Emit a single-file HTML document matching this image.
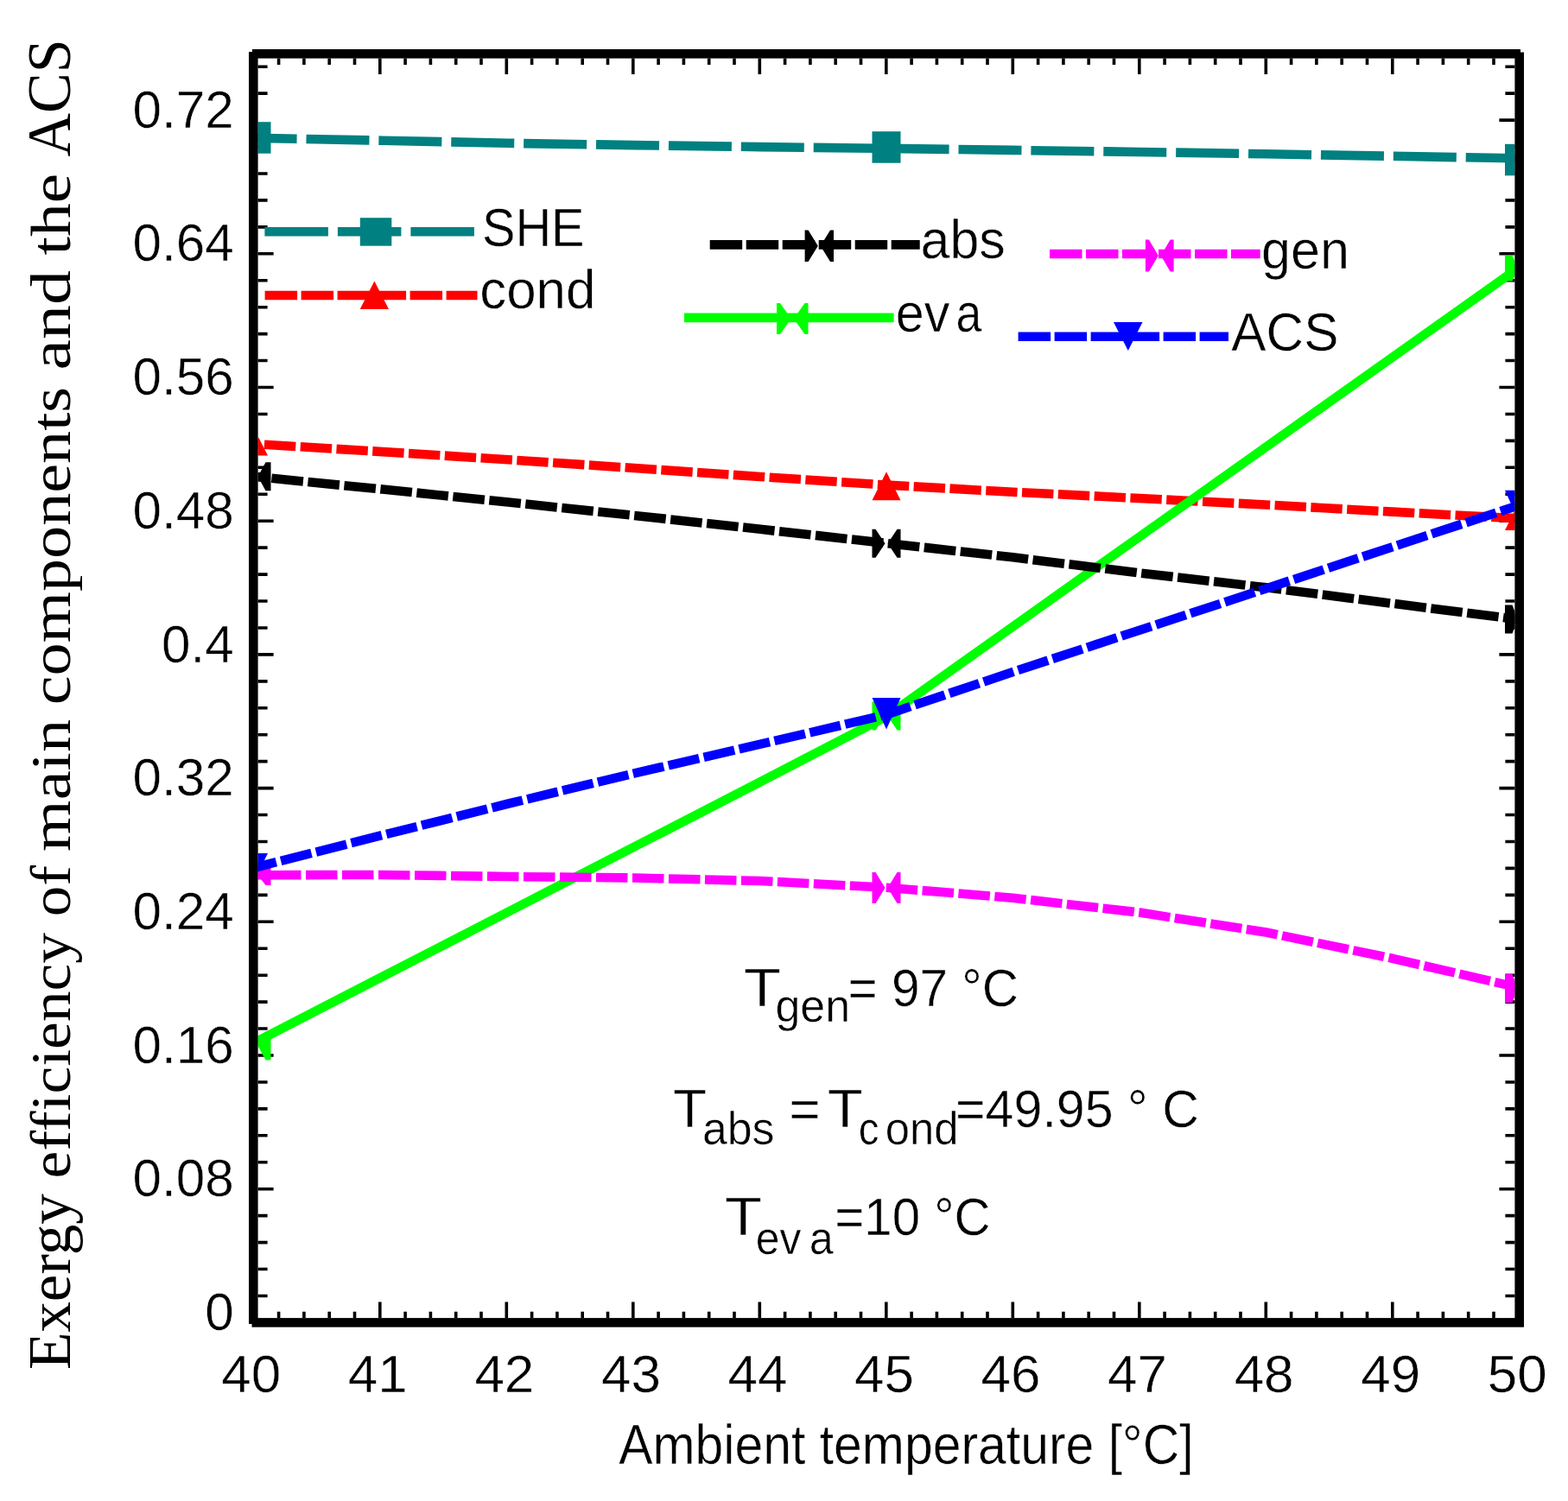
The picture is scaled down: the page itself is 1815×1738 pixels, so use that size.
<!DOCTYPE html><html><head><meta charset="utf-8"><title>Exergy efficiency vs ambient temperature</title><style>html,body{margin:0;padding:0;background:#fff;}body{width:1815px;height:1738px;overflow:hidden;}svg{display:block;}</style></head><body><svg width="1815" height="1738" viewBox="0 0 1815 1738">
<rect width="1815" height="1738" fill="#fff"/>
<defs><clipPath id="pc"><rect x="298.6" y="67.6" width="1454.8000000000002" height="1458.5000000000002"/></clipPath></defs>
<path d="M298.6,1500.46h11M1753.4,1500.46h-11M298.6,1469.52h11M1753.4,1469.52h-11M298.6,1438.58h11M1753.4,1438.58h-11M298.6,1407.64h11M1753.4,1407.64h-11M298.6,1376.70h18M1753.4,1376.70h-18M298.6,1345.76h11M1753.4,1345.76h-11M298.6,1314.82h11M1753.4,1314.82h-11M298.6,1283.88h11M1753.4,1283.88h-11M298.6,1252.94h11M1753.4,1252.94h-11M298.6,1222.00h18M1753.4,1222.00h-18M298.6,1191.06h11M1753.4,1191.06h-11M298.6,1160.12h11M1753.4,1160.12h-11M298.6,1129.18h11M1753.4,1129.18h-11M298.6,1098.24h11M1753.4,1098.24h-11M298.6,1067.30h18M1753.4,1067.30h-18M298.6,1036.36h11M1753.4,1036.36h-11M298.6,1005.42h11M1753.4,1005.42h-11M298.6,974.48h11M1753.4,974.48h-11M298.6,943.54h11M1753.4,943.54h-11M298.6,912.60h18M1753.4,912.60h-18M298.6,881.66h11M1753.4,881.66h-11M298.6,850.72h11M1753.4,850.72h-11M298.6,819.78h11M1753.4,819.78h-11M298.6,788.84h11M1753.4,788.84h-11M298.6,757.90h18M1753.4,757.90h-18M298.6,726.96h11M1753.4,726.96h-11M298.6,696.02h11M1753.4,696.02h-11M298.6,665.08h11M1753.4,665.08h-11M298.6,634.14h11M1753.4,634.14h-11M298.6,603.20h18M1753.4,603.20h-18M298.6,572.26h11M1753.4,572.26h-11M298.6,541.32h11M1753.4,541.32h-11M1753.4,510.38h-11M298.6,479.44h11M1753.4,479.44h-11M298.6,448.50h18M1753.4,448.50h-18M298.6,417.56h11M1753.4,417.56h-11M298.6,386.62h11M1753.4,386.62h-11M298.6,355.68h11M1753.4,355.68h-11M298.6,324.74h11M1753.4,324.74h-11M298.6,293.80h18M1753.4,293.80h-18M298.6,262.86h11M1753.4,262.86h-11M298.6,231.92h11M1753.4,231.92h-11M298.6,200.98h11M1753.4,200.98h-11M298.6,170.04h11M1753.4,170.04h-11M1753.4,139.10h-18M298.6,108.16h11M1753.4,108.16h-11M298.6,77.22h11M1753.4,77.22h-11M322.60,1526.1000000000001v-7.4M322.60,67.6v7.4M351.90,1526.1000000000001v-7.4M351.90,67.6v7.4M381.20,1526.1000000000001v-7.4M381.20,67.6v7.4M410.50,1526.1000000000001v-7.4M410.50,67.6v7.4M439.80,1526.1000000000001v-18.5M439.80,67.6v18.5M469.10,1526.1000000000001v-7.4M469.10,67.6v7.4M498.40,1526.1000000000001v-7.4M498.40,67.6v7.4M527.70,1526.1000000000001v-7.4M527.70,67.6v7.4M557.00,1526.1000000000001v-7.4M557.00,67.6v7.4M586.30,1526.1000000000001v-18.5M586.30,67.6v18.5M615.60,1526.1000000000001v-7.4M615.60,67.6v7.4M644.90,1526.1000000000001v-7.4M644.90,67.6v7.4M674.20,1526.1000000000001v-7.4M674.20,67.6v7.4M703.50,1526.1000000000001v-7.4M703.50,67.6v7.4M732.80,1526.1000000000001v-18.5M732.80,67.6v18.5M762.10,1526.1000000000001v-7.4M762.10,67.6v7.4M791.40,1526.1000000000001v-7.4M791.40,67.6v7.4M820.70,1526.1000000000001v-7.4M820.70,67.6v7.4M850.00,1526.1000000000001v-7.4M850.00,67.6v7.4M879.30,1526.1000000000001v-18.5M879.30,67.6v18.5M908.60,1526.1000000000001v-7.4M908.60,67.6v7.4M937.90,1526.1000000000001v-7.4M937.90,67.6v7.4M967.20,1526.1000000000001v-7.4M967.20,67.6v7.4M996.50,1526.1000000000001v-7.4M996.50,67.6v7.4M1025.80,1526.1000000000001v-18.5M1025.80,67.6v18.5M1055.10,1526.1000000000001v-7.4M1055.10,67.6v7.4M1084.40,1526.1000000000001v-7.4M1084.40,67.6v7.4M1113.70,1526.1000000000001v-7.4M1113.70,67.6v7.4M1143.00,1526.1000000000001v-7.4M1143.00,67.6v7.4M1172.30,1526.1000000000001v-18.5M1172.30,67.6v18.5M1201.60,1526.1000000000001v-7.4M1201.60,67.6v7.4M1230.90,1526.1000000000001v-7.4M1230.90,67.6v7.4M1260.20,1526.1000000000001v-7.4M1260.20,67.6v7.4M1289.50,1526.1000000000001v-7.4M1289.50,67.6v7.4M1318.80,1526.1000000000001v-18.5M1318.80,67.6v18.5M1348.10,1526.1000000000001v-7.4M1348.10,67.6v7.4M1377.40,1526.1000000000001v-7.4M1377.40,67.6v7.4M1406.70,1526.1000000000001v-7.4M1406.70,67.6v7.4M1436.00,1526.1000000000001v-7.4M1436.00,67.6v7.4M1465.30,1526.1000000000001v-18.5M1465.30,67.6v18.5M1494.60,1526.1000000000001v-7.4M1494.60,67.6v7.4M1523.90,1526.1000000000001v-7.4M1523.90,67.6v7.4M1553.20,1526.1000000000001v-7.4M1553.20,67.6v7.4M1582.50,1526.1000000000001v-7.4M1582.50,67.6v7.4M1611.80,1526.1000000000001v-18.5M1611.80,67.6v18.5M1641.10,1526.1000000000001v-7.4M1641.10,67.6v7.4M1670.40,1526.1000000000001v-7.4M1670.40,67.6v7.4M1699.70,1526.1000000000001v-7.4M1699.70,67.6v7.4M1729.00,1526.1000000000001v-7.4M1729.00,67.6v7.4" stroke="#000" stroke-width="3.6" fill="none"/>
<g clip-path="url(#pc)">
<polyline points="297.0,159.9 442.8,162.7 588.6,165.8 734.4,168.1 880.2,170.1 1026.0,171.9 1172.5,173.9 1319.0,176.0 1465.5,178.3 1612.0,180.8 1758.5,183.4" fill="none" stroke="#008080" stroke-width="10.6" stroke-linejoin="round" stroke-dasharray="73 10.9" stroke-dashoffset="26.4"/>
<rect x="280.5" y="141.2" width="33.0" height="36.5" fill="#008080"/>
<rect x="1009.5" y="152.2" width="33.0" height="36.5" fill="#008080"/>
<rect x="1742.0" y="166.8" width="33.0" height="36.5" fill="#008080"/>
<polyline points="297.0,514.2 442.8,523.1 588.6,532.3 734.4,542.0 880.2,552.0 1026.0,561.6 1172.5,569.7 1319.0,577.0 1465.5,584.5 1612.0,592.6 1758.5,600.4" fill="none" stroke="#ff0000" stroke-width="10.6" stroke-linejoin="round" stroke-dasharray="36.4 5.45" stroke-dashoffset="32.9"/>
<path d="M299.0,505.9L310.0,527.6L288.0,527.6Z" fill="#ff0000"/>
<path d="M1026.0,546.3L1042.5,579.3L1009.5,579.3Z" fill="#ff0000"/>
<path d="M1758.5,581.0L1775.0,614.0L1742.0,614.0Z" fill="#ff0000"/>
<polyline points="297.0,1206.0 442.8,1130.8 588.6,1055.6 734.4,980.4 880.2,905.2 1026.0,829.5 1172.5,725.5 1319.0,621.5 1465.5,517.5 1612.0,413.5 1758.5,309.5" fill="none" stroke="#00ff00" stroke-width="10.6" stroke-linejoin="round"/>
<path d="M280.5,1194.5L286.5,1194.5L295.5,1211.0L286.5,1227.5L280.5,1227.5ZM313.5,1194.5L307.5,1194.5L298.5,1211.0L307.5,1227.5L313.5,1227.5Z" fill="#00ff00"/>
<path d="M1009.5,812.5L1013.5,812.5L1024.5,829.0L1013.5,845.5L1009.5,845.5ZM1042.5,812.5L1038.5,812.5L1027.5,829.0L1038.5,845.5L1042.5,845.5Z" fill="#00ff00"/>
<path d="M1742.0,295.9L1750.5,295.9L1757.0,310.7L1750.5,325.4L1742.0,325.4ZM1775.0,295.9L1766.5,295.9L1760.0,310.7L1766.5,325.4L1775.0,325.4Z" fill="#00ff00"/>
<polyline points="297.0,1013.2 442.8,1013.0 588.6,1015.0 734.4,1016.5 880.2,1020.0 1026.0,1027.7 1172.5,1039.7 1319.0,1056.6 1465.5,1079.5 1612.0,1109.8 1758.5,1143.7" fill="none" stroke="#ff00ff" stroke-width="10.6" stroke-linejoin="round" stroke-dasharray="36.5 5.5" stroke-dashoffset="27"/>
<path d="M280.5,1002.0L286.5,1002.0L295.5,1013.5L286.5,1025.0L280.5,1025.0ZM313.5,1002.0L307.5,1002.0L298.5,1013.5L307.5,1025.0L313.5,1025.0Z" fill="#ff00ff"/>
<path d="M1009.5,1010.0L1013.5,1010.0L1024.5,1028.0L1013.5,1046.0L1009.5,1046.0ZM1042.5,1010.0L1038.5,1010.0L1027.5,1028.0L1038.5,1046.0L1042.5,1046.0Z" fill="#ff00ff"/>
<path d="M1742.0,1128.0L1750.5,1128.0L1757.0,1144.5L1750.5,1161.0L1742.0,1161.0ZM1775.0,1128.0L1766.5,1128.0L1760.0,1144.5L1766.5,1161.0L1775.0,1161.0Z" fill="#ff00ff"/>
<polyline points="297.0,552.0 442.8,566.6 588.6,581.5 734.4,596.9 880.2,612.8 1026.0,629.0 1172.5,645.3 1319.0,663.4 1465.5,680.3 1612.0,698.8 1758.5,717.4" fill="none" stroke="#000000" stroke-width="10.6" stroke-linejoin="round" stroke-dasharray="36.7 5.5" stroke-dashoffset="24.7"/>
<path d="M280.5,535.3L286.5,535.3L295.5,551.8L286.5,568.3L280.5,568.3ZM313.5,535.3L307.5,535.3L298.5,551.8L307.5,568.3L313.5,568.3Z" fill="#000000"/>
<path d="M1009.5,612.8L1013.5,612.8L1024.5,629.3L1013.5,645.8L1009.5,645.8ZM1042.5,612.8L1038.5,612.8L1027.5,629.3L1038.5,645.8L1042.5,645.8Z" fill="#000000"/>
<path d="M1742.0,700.5L1750.5,700.5L1757.0,717.0L1750.5,733.5L1742.0,733.5ZM1775.0,700.5L1766.5,700.5L1760.0,717.0L1766.5,733.5L1775.0,733.5Z" fill="#000000"/>
<polyline points="297.0,1004.0 442.8,967.0 588.6,930.5 734.4,895.4 880.2,861.7 1026.0,827.5 1172.5,778.0 1319.0,729.7 1465.5,681.5 1612.0,633.2 1758.5,584.9" fill="none" stroke="#0000ff" stroke-width="10.6" stroke-linejoin="round" stroke-dasharray="36.5 5.5" stroke-dashoffset="13"/>
<path d="M288.0,988.0L310.0,988.0L299.0,1010.0Z" fill="#0000ff"/>
<path d="M1009.5,808.0L1042.5,808.0L1026.0,844.5Z" fill="#0000ff"/>
<path d="M1742.0,567.8L1775.0,567.8L1758.5,604.2Z" fill="#0000ff"/>
</g>
<line x1="306.4" y1="268.3" x2="549" y2="268.3" stroke="#008080" stroke-width="10.6" stroke-dasharray="73.5 11"/><rect x="416.8" y="252.2" width="36.5" height="32.5" fill="#008080"/>
<line x1="306.6" y1="342" x2="552.5" y2="342" stroke="#ff0000" stroke-width="10.6" stroke-dasharray="37.5 4.5"/><path d="M433.4,325.4L450.0,358.0L416.7,358.0Z" fill="#ff0000"/>
<line x1="821.7" y1="283.4" x2="1064.7" y2="283.4" stroke="#000000" stroke-width="10.6" stroke-dasharray="37.5 4.5"/><path d="M931.6,266.6L935.6,266.6L946.8,284.8L935.6,303.0L931.6,303.0ZM965.0,266.6L961.0,266.6L949.8,284.8L961.0,303.0L965.0,303.0Z" fill="#000000"/>
<line x1="792" y1="367.9" x2="1034.6" y2="367.9" stroke="#00ff00" stroke-width="10.6"/><path d="M899.0,351.0L903.0,351.0L915.8,369.0L903.0,387.0L899.0,387.0ZM935.5,351.0L931.5,351.0L918.8,369.0L931.5,387.0L935.5,387.0Z" fill="#00ff00"/>
<line x1="1215" y1="294" x2="1458.7" y2="294" stroke="#ff00ff" stroke-width="10.6" stroke-dasharray="37.5 4.5"/><path d="M1325.9,277.6L1329.9,277.6L1340.8,296.0L1329.9,314.4L1325.9,314.4ZM1358.6,277.6L1354.6,277.6L1343.8,296.0L1354.6,314.4L1358.6,314.4Z" fill="#ff00ff"/>
<line x1="1178.6" y1="389.7" x2="1422" y2="389.7" stroke="#0000ff" stroke-width="10.6" stroke-dasharray="37.5 4.5"/><path d="M1289.0,373.0L1322.5,373.0L1305.8,405.9Z" fill="#0000ff"/>
<rect x="293.3" y="62.3" width="1465.4" height="1469.1000000000001" fill="none" stroke="#000" stroke-width="10.6"/>
<path d="M287,56h5v4h-5zM1760,56h5v4.6h-5zM287,1533h4.5v5h-4.5z" fill="#fff"/>
<text x="0" y="0" transform="translate(270.8,1540.00) scale(0.972,1)" text-anchor="end" font-family='"Liberation Sans", Arial, sans-serif' font-size="62" stroke="#fff" stroke-width="0.5">0</text>
<text x="0" y="0" transform="translate(270.8,1385.30) scale(0.972,1)" text-anchor="end" font-family='"Liberation Sans", Arial, sans-serif' font-size="62" stroke="#fff" stroke-width="0.5">0.08</text>
<text x="0" y="0" transform="translate(270.8,1230.60) scale(0.972,1)" text-anchor="end" font-family='"Liberation Sans", Arial, sans-serif' font-size="62" stroke="#fff" stroke-width="0.5">0.16</text>
<text x="0" y="0" transform="translate(270.8,1075.90) scale(0.972,1)" text-anchor="end" font-family='"Liberation Sans", Arial, sans-serif' font-size="62" stroke="#fff" stroke-width="0.5">0.24</text>
<text x="0" y="0" transform="translate(270.8,921.20) scale(0.972,1)" text-anchor="end" font-family='"Liberation Sans", Arial, sans-serif' font-size="62" stroke="#fff" stroke-width="0.5">0.32</text>
<text x="0" y="0" transform="translate(270.8,766.50) scale(0.972,1)" text-anchor="end" font-family='"Liberation Sans", Arial, sans-serif' font-size="62" stroke="#fff" stroke-width="0.5">0.4</text>
<text x="0" y="0" transform="translate(270.8,611.80) scale(0.972,1)" text-anchor="end" font-family='"Liberation Sans", Arial, sans-serif' font-size="62" stroke="#fff" stroke-width="0.5">0.48</text>
<text x="0" y="0" transform="translate(270.8,457.10) scale(0.972,1)" text-anchor="end" font-family='"Liberation Sans", Arial, sans-serif' font-size="62" stroke="#fff" stroke-width="0.5">0.56</text>
<text x="0" y="0" transform="translate(270.8,302.40) scale(0.972,1)" text-anchor="end" font-family='"Liberation Sans", Arial, sans-serif' font-size="62" stroke="#fff" stroke-width="0.5">0.64</text>
<text x="0" y="0" transform="translate(270.8,147.70) scale(0.972,1)" text-anchor="end" font-family='"Liberation Sans", Arial, sans-serif' font-size="62" stroke="#fff" stroke-width="0.5">0.72</text>
<text x="290.80" y="1611.6" text-anchor="middle" stroke="#fff" stroke-width="0.5" font-family='"Liberation Sans", Arial, sans-serif' font-size="62">40</text>
<text x="437.34" y="1611.6" text-anchor="middle" stroke="#fff" stroke-width="0.5" font-family='"Liberation Sans", Arial, sans-serif' font-size="62">41</text>
<text x="583.88" y="1611.6" text-anchor="middle" stroke="#fff" stroke-width="0.5" font-family='"Liberation Sans", Arial, sans-serif' font-size="62">42</text>
<text x="730.42" y="1611.6" text-anchor="middle" stroke="#fff" stroke-width="0.5" font-family='"Liberation Sans", Arial, sans-serif' font-size="62">43</text>
<text x="876.96" y="1611.6" text-anchor="middle" stroke="#fff" stroke-width="0.5" font-family='"Liberation Sans", Arial, sans-serif' font-size="62">44</text>
<text x="1023.50" y="1611.6" text-anchor="middle" stroke="#fff" stroke-width="0.5" font-family='"Liberation Sans", Arial, sans-serif' font-size="62">45</text>
<text x="1170.04" y="1611.6" text-anchor="middle" stroke="#fff" stroke-width="0.5" font-family='"Liberation Sans", Arial, sans-serif' font-size="62">46</text>
<text x="1316.58" y="1611.6" text-anchor="middle" stroke="#fff" stroke-width="0.5" font-family='"Liberation Sans", Arial, sans-serif' font-size="62">47</text>
<text x="1463.12" y="1611.6" text-anchor="middle" stroke="#fff" stroke-width="0.5" font-family='"Liberation Sans", Arial, sans-serif' font-size="62">48</text>
<text x="1609.66" y="1611.6" text-anchor="middle" stroke="#fff" stroke-width="0.5" font-family='"Liberation Sans", Arial, sans-serif' font-size="62">49</text>
<text x="1756.20" y="1611.6" text-anchor="middle" stroke="#fff" stroke-width="0.5" font-family='"Liberation Sans", Arial, sans-serif' font-size="62">50</text>
<text font-family='"Liberation Sans", Arial, sans-serif' fill="#000" stroke="#fff" stroke-width="0.5"><tspan x="557.89" y="284.60" font-size="63.5" textLength="118.75" lengthAdjust="spacingAndGlyphs">SHE</tspan></text>
<text font-family='"Liberation Sans", Arial, sans-serif' fill="#000" stroke="#fff" stroke-width="0.5"><tspan x="555.22" y="357.40" font-size="63.5" textLength="134.25" lengthAdjust="spacingAndGlyphs">cond</tspan></text>
<text font-family='"Liberation Sans", Arial, sans-serif' fill="#000" stroke="#fff" stroke-width="0.5"><tspan x="1065.56" y="299.00" font-size="63.5" textLength="98.16" lengthAdjust="spacingAndGlyphs">abs</tspan></text>
<text font-family='"Liberation Sans", Arial, sans-serif' fill="#000" stroke="#fff" stroke-width="0.5"><tspan x="1036.83" y="383.50" font-size="63.5" textLength="62.57" lengthAdjust="spacingAndGlyphs">ev</tspan><tspan x="1106.46" y="383.50" font-size="63.5" textLength="29.73" lengthAdjust="spacingAndGlyphs">a</tspan></text>
<text font-family='"Liberation Sans", Arial, sans-serif' fill="#000" stroke="#fff" stroke-width="0.5"><tspan x="1460.06" y="310.50" font-size="63.5" textLength="101.87" lengthAdjust="spacingAndGlyphs">gen</tspan></text>
<text font-family='"Liberation Sans", Arial, sans-serif' fill="#000" stroke="#fff" stroke-width="0.5"><tspan x="1425.30" y="405.90" font-size="63.5" textLength="124.13" lengthAdjust="spacingAndGlyphs">ACS</tspan></text>
<text font-family='"Liberation Sans", Arial, sans-serif' fill="#000" stroke="#fff" stroke-width="0.5"><tspan x="860.79" y="1164.50" font-size="63" textLength="43.19" lengthAdjust="spacingAndGlyphs">T</tspan><tspan x="897.42" y="1182.90" font-size="54" textLength="86.70" lengthAdjust="spacingAndGlyphs">gen</tspan><tspan x="981.46" y="1164.50" font-size="62" textLength="197.63" lengthAdjust="spacingAndGlyphs">= 97 °C</tspan></text>
<text font-family='"Liberation Sans", Arial, sans-serif' fill="#000" stroke="#fff" stroke-width="0.5"><tspan x="779.12" y="1304.90" font-size="63" textLength="39.12" lengthAdjust="spacingAndGlyphs">T</tspan><tspan x="812.93" y="1325.00" font-size="54" textLength="83.63" lengthAdjust="spacingAndGlyphs">abs</tspan> <tspan x="913.30" y="1304.90" font-size="62" textLength="36.44" lengthAdjust="spacingAndGlyphs">=</tspan> <tspan x="957.86" y="1304.90" font-size="63" textLength="40.94" lengthAdjust="spacingAndGlyphs">T</tspan><tspan x="993.71" y="1325.00" font-size="54" textLength="23.64" lengthAdjust="spacingAndGlyphs">c</tspan><tspan x="1024.87" y="1325.00" font-size="54" textLength="84.68" lengthAdjust="spacingAndGlyphs">ond</tspan><tspan x="1106.03" y="1304.90" font-size="62" textLength="281.97" lengthAdjust="spacingAndGlyphs">=49.95 ° C</tspan></text>
<text font-family='"Liberation Sans", Arial, sans-serif' fill="#000" stroke="#fff" stroke-width="0.5"><tspan x="838.89" y="1430.00" font-size="63" textLength="43.19" lengthAdjust="spacingAndGlyphs">T</tspan><tspan x="874.81" y="1451.50" font-size="54" textLength="52.59" lengthAdjust="spacingAndGlyphs">ev</tspan><tspan x="936.68" y="1451.50" font-size="54" textLength="28.02" lengthAdjust="spacingAndGlyphs">a</tspan><tspan x="966.27" y="1430.00" font-size="62" textLength="180.30" lengthAdjust="spacingAndGlyphs">=10 °C</tspan></text>
<text font-family='"Liberation Sans", Arial, sans-serif' fill="#000" stroke="#fff" stroke-width="0.5"><tspan x="716.20" y="1695.20" font-size="64" textLength="665.40" lengthAdjust="spacingAndGlyphs">Ambient temperature [°C]</tspan></text>
<text transform="translate(81.3,0) rotate(-90)" font-family='"Liberation Serif", "Times New Roman", serif' fill="#000"><tspan x="-1586.12" y="0" font-size="69" textLength="203.92" lengthAdjust="spacingAndGlyphs">Exergy</tspan> <tspan x="-1364.44" y="0" font-size="66" textLength="284.44" lengthAdjust="spacingAndGlyphs">efficiency</tspan> <tspan x="-1061.33" y="0" font-size="66" textLength="59.13" lengthAdjust="spacingAndGlyphs">of</tspan> <tspan x="-985.93" y="0" font-size="66" textLength="153.10" lengthAdjust="spacingAndGlyphs">main</tspan> <tspan x="-816.29" y="0" font-size="66" textLength="368.31" lengthAdjust="spacingAndGlyphs">components</tspan> <tspan x="-428.40" y="0" font-size="66" textLength="115.29" lengthAdjust="spacingAndGlyphs">and</tspan> <tspan x="-295.50" y="0" font-size="66" textLength="94.72" lengthAdjust="spacingAndGlyphs">the</tspan> <tspan x="-181.50" y="0" font-size="72" textLength="136.23" lengthAdjust="spacingAndGlyphs">ACS</tspan></text>
</svg></body></html>
